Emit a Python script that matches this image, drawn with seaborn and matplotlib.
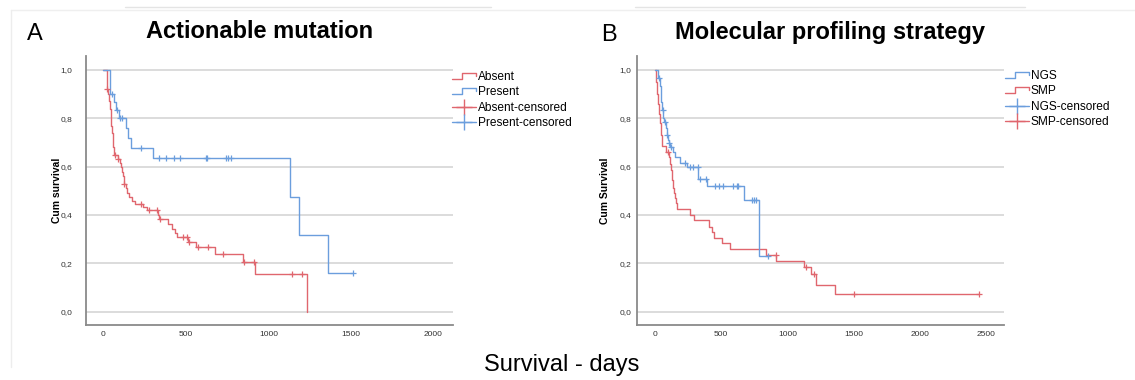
import numpy as np
import pandas as pd
import matplotlib
matplotlib.use("Agg")
import matplotlib.pyplot as plt
from matplotlib.lines import Line2D
from matplotlib.legend_handler import HandlerBase
import seaborn as sns

# ---------------- data ----------------
# Panel A: Actionable mutation
a_absent_t = [0, 19, 30, 35, 40, 45, 48, 52, 56, 60, 66, 88, 100, 108, 113, 118, 126, 135,
              145, 155, 171, 190, 240, 262, 330, 338, 393, 413, 433, 443, 513, 563, 676,
              843, 918, 1231]
a_absent_s = [1.0, 0.92, 0.90, 0.87, 0.84, 0.80, 0.77, 0.74, 0.71, 0.68, 0.648, 0.632, 0.615,
              0.60, 0.58, 0.56, 0.53, 0.51, 0.49, 0.475, 0.46, 0.447, 0.433, 0.419, 0.40,
              0.382, 0.364, 0.343, 0.326, 0.31, 0.287, 0.267, 0.239, 0.205, 0.154, 0.0]
a_absent_cens = [19, 70, 90, 126, 227, 278, 322, 345, 483, 509, 518, 573, 631, 722, 853, 914,
                 1144, 1201]

a_present_t = [0, 39, 62, 78, 91, 136, 150, 166, 298, 1130, 1187, 1362, 1510]
a_present_s = [1.0, 0.90, 0.867, 0.833, 0.80, 0.76, 0.717, 0.677, 0.635, 0.476, 0.317, 0.159,
               0.159]
a_present_cens = [53, 84, 100, 110, 227, 336, 379, 429, 464, 619, 625, 740, 757, 773, 1510]

# Panel B: Molecular profiling strategy
b_ngs_t = [0, 20, 35, 42, 48, 55, 62, 68, 80, 88, 100, 104, 115, 135, 150, 190, 245, 328, 395,
           673, 789, 853]
b_ngs_s = [1.0, 0.967, 0.935, 0.90, 0.867, 0.835, 0.80, 0.785, 0.76, 0.73, 0.71, 0.697, 0.68,
           0.66, 0.64, 0.617, 0.598, 0.55, 0.52, 0.463, 0.23, 0.23]
b_ngs_cens = [28, 58, 73, 93, 108, 124, 227, 265, 285, 322, 340, 385, 453, 486, 516, 592, 618,
              625, 731, 745, 763, 853]

b_smp_t = [0, 8, 15, 25, 32, 38, 45, 55, 81, 104, 110, 122, 128, 135, 145, 152, 160, 169, 266,
           294, 407, 427, 447, 509, 567, 840, 917, 1122, 1180, 1218, 1359, 2449]
b_smp_s = [1.0, 0.95, 0.90, 0.86, 0.82, 0.78, 0.73, 0.685, 0.66, 0.64, 0.61, 0.585, 0.545,
           0.51, 0.49, 0.47, 0.45, 0.425, 0.402, 0.378, 0.352, 0.328, 0.307, 0.284, 0.259,
           0.235, 0.21, 0.186, 0.157, 0.112, 0.073, 0.073]
b_smp_cens = [98, 912, 1138, 1198, 1504, 2449]

y_ticks = [0.0, 0.2, 0.4, 0.6, 0.8, 1.0]
y_tick_labels = ["0,0", "0,2", "0,4", "0,6", "0,8", "1,0"]
a_x_ticks = [0, 500, 1000, 1500, 2000]
b_x_ticks = [0, 500, 1000, 1500, 2000, 2500]

RED = "#e0666e"
BLUE = "#6b9edd"

# ---------------- style ----------------
sns.set_style("white")
plt.rcParams["font.family"] = ["Liberation Sans", "DejaVu Sans"]
plt.rcParams["text.color"] = "black"
plt.rcParams["axes.labelcolor"] = "black"

W, H = 1135, 380
fig = plt.figure(figsize=(W / 100, H / 100), dpi=100)


def fx(px):
    return px / W


def fy(py):
    return 1 - py / H


def surv_at(times, surv, t):
    idx = np.searchsorted(np.asarray(times), t, side="right") - 1
    return np.asarray(surv)[idx]


class StepHandler(HandlerBase):
    def create_artists(self, legend, orig_handle, xdescent, ydescent, width, height,
                       fontsize, trans):
        x0 = -xdescent
        y0 = -ydescent
        xs = [x0, x0 + 0.42 * width, x0 + 0.42 * width, x0 + width, x0 + width]
        ys = [y0 + 0.15 * height, y0 + 0.15 * height, y0 + 0.85 * height,
              y0 + 0.85 * height, y0 + 0.5 * height]
        ln = Line2D(xs, ys, color=orig_handle.get_color(), lw=1.0, transform=trans)
        return [ln]


def draw_panel(ax, groups, xlim, xticks, ylabel, ypad):
    for g in groups:
        df = pd.DataFrame({"t": g["t"], "s": g["s"]})
        sns.lineplot(data=df, x="t", y="s", drawstyle="steps-post", color=g["color"],
                     lw=1.0, ax=ax, estimator=None, sort=False, legend=False)
        ct = np.asarray(g["cens"])
        cdf = pd.DataFrame({"t": ct, "s": surv_at(g["t"], g["s"], ct)})
        sns.scatterplot(data=cdf, x="t", y="s", marker="+", s=16, color=g["color"],
                        linewidth=0.9, ax=ax, legend=False, zorder=3)
    ax.set_xlim(*xlim)
    ax.set_ylim(-0.055, 1.058)
    ax.set_yticks(y_ticks)
    ax.set_yticklabels(y_tick_labels)
    ax.set_xticks(xticks)
    ax.set_xticklabels([str(v) for v in xticks])
    for v in y_ticks:
        ax.axhline(v, color="#d2d2d2", lw=1.1, zorder=0)
    for sp in ["top", "right"]:
        ax.spines[sp].set_visible(False)
    for sp in ["left", "bottom"]:
        ax.spines[sp].set_color("#8a8a8a")
        ax.spines[sp].set_linewidth(1.3)
    ax.tick_params(axis="y", length=0, labelsize=6, pad=ypad, colors="#333333")
    ax.tick_params(axis="x", length=0, labelsize=6, pad=4, colors="#333333")
    ax.set_xlabel("")
    ax.set_ylabel(ylabel, fontsize=7.5, fontweight="bold")


# axes geometry (pixels)
bottom_px, top_px = 325, 56
axA = fig.add_axes([fx(86), fy(bottom_px), fx(453 - 86), (bottom_px - top_px) / H])
axB = fig.add_axes([fx(637), fy(bottom_px), fx(1004 - 637), (bottom_px - top_px) / H])

groupsA = [
    dict(t=a_absent_t, s=a_absent_s, cens=a_absent_cens, color=RED),
    dict(t=a_present_t, s=a_present_s, cens=a_present_cens, color=BLUE),
]
groupsB = [
    dict(t=b_smp_t, s=b_smp_s, cens=b_smp_cens, color=RED),
    dict(t=b_ngs_t, s=b_ngs_s, cens=b_ngs_cens, color=BLUE),
]
draw_panel(axA, groupsA, (-106, 2118), a_x_ticks, "Cum survival", 10)
draw_panel(axB, groupsB, (-136, 2636), b_x_ticks, "Cum Survival", 4)
axA.yaxis.set_label_coords(-0.066, 0.5)
axB.yaxis.set_label_coords(-0.074, 0.5)


def add_legend(labels, colors, x_px, y_px):
    handles = [Line2D([], [], color=colors[0]), Line2D([], [], color=colors[1]),
               Line2D([], [], color=colors[0], marker="+", markersize=11, lw=1.0),
               Line2D([], [], color=colors[1], marker="+", markersize=11, lw=1.0)]
    leg = fig.legend(handles, labels, loc="upper left", bbox_to_anchor=(fx(x_px), fy(y_px)),
                     frameon=False, fontsize=8.6, handlelength=2.0, handletextpad=0.15,
                     labelspacing=0.28, borderpad=0, borderaxespad=0, numpoints=1,
                     handler_map={handles[0]: StepHandler(), handles[1]: StepHandler()})
    for t in leg.get_texts():
        t.set_color("black")
    return leg


add_legend(["Absent", "Present", "Absent-censored", "Present-censored"], [RED, BLUE], 452, 71)
add_legend(["NGS", "SMP", "NGS-censored", "SMP-censored"], [BLUE, RED], 1005, 70)

# titles and labels
fig.text(fx(260), fy(32), "Actionable mutation", ha="center", va="center", fontsize=17,
         fontweight="bold", color="black")
fig.text(fx(830), fy(33), "Molecular profiling strategy", ha="center", va="center",
         fontsize=17, fontweight="bold", color="black")
fig.text(fx(35), fy(34), "A", ha="center", va="center", fontsize=17, color="black")
fig.text(fx(609), fy(35), "B", ha="center", va="center", fontsize=17, color="black")
fig.text(fx(562), fy(365), "Survival - days", ha="center", va="center", fontsize=17,
         color="black")

# faint screenshot frame lines
frame = [((11, 1135), (9.5, 9.5), "#efefef"), ((125, 491), (7, 7), "#e4e4e4"),
         ((635, 1025), (7, 7), "#e4e4e4"), ((11, 11), (10, 367), "#ededed")]
for xs, ys, c in frame:
    fig.add_artist(Line2D([fx(xs[0]), fx(xs[1])], [fy(ys[0]), fy(ys[1])],
                          transform=fig.transFigure, color=c, lw=1.0))

fig.savefig("out.png", dpi=100, facecolor="white")
